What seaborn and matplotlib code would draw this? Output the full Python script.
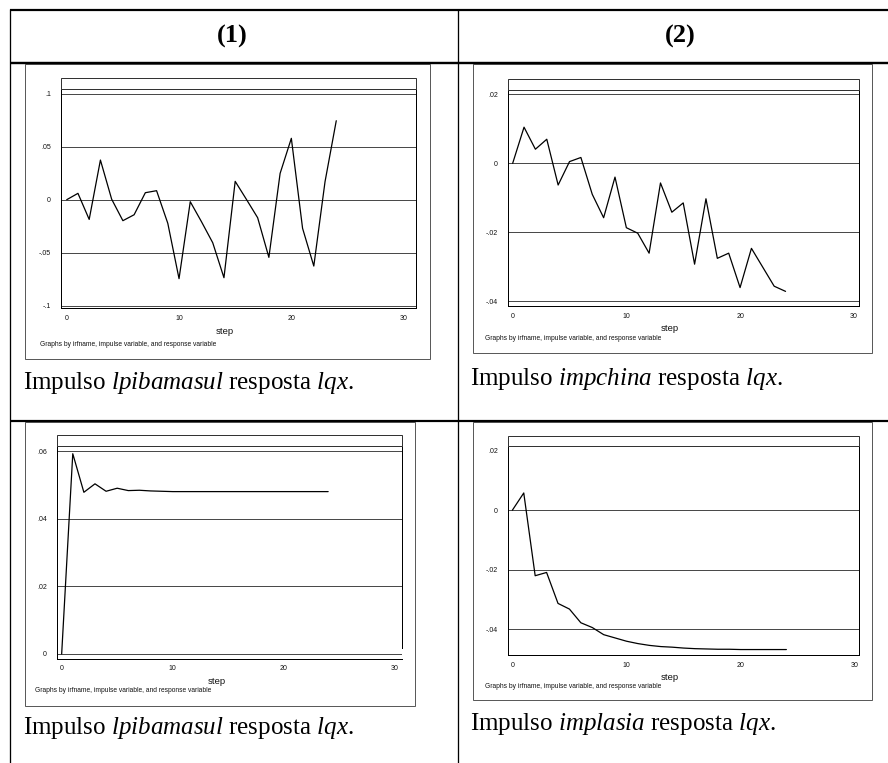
import numpy as np
import pandas as pd
import matplotlib
matplotlib.use("Agg")
import matplotlib.pyplot as plt
import seaborn as sns
from matplotlib.patches import Rectangle
from matplotlib.lines import Line2D

# ---------------- data ----------------
steps = list(range(25))
irf_lpibamsul_top = [0.0, 0.006, -0.0186, 0.0374, 0.0005, -0.0198, -0.0142, 0.0066, 0.0085,
                     -0.0223, -0.0745, -0.0019, -0.0208, -0.0406, -0.0736, 0.0173, 0.0003,
                     -0.017, -0.0544, 0.0248, 0.0579, -0.027, -0.0626, 0.017, 0.0745]
irf_impchina = [0.0, 0.0105, 0.0041, 0.0070, -0.0063, 0.0005, 0.0017, -0.0090, -0.0158,
                -0.0040, -0.0187, -0.0203, -0.0261, -0.0057, -0.0142, -0.0115, -0.0293,
                -0.0103, -0.0276, -0.0261, -0.0361, -0.0247, -0.0302, -0.0357, -0.0372]
irf_lpibamsul_bottom = [0.0, 0.0592, 0.0478, 0.0503, 0.0481, 0.0490, 0.0483, 0.0484, 0.0482,
                        0.0481, 0.0480, 0.0480, 0.0480, 0.0480, 0.0480, 0.0480, 0.0480,
                        0.0480, 0.0480, 0.0480, 0.0480, 0.0480, 0.0480, 0.0480, 0.0480]
irf_implasia = [0.0, 0.0058, -0.0220, -0.0209, -0.0313, -0.0332, -0.0378, -0.0394, -0.0418,
                -0.0429, -0.0440, -0.0448, -0.0454, -0.0458, -0.0460, -0.0463, -0.0465,
                -0.0466, -0.0467, -0.0467, -0.0468, -0.0468, -0.0468, -0.0468, -0.0468]

strip_titles = ["vec, lpibamsul, lqx", "vec, impchina, lqx", "vec, lpibamsul, lqx", "vec, implasia, lqx"]
impulse_names = ["lpibamasul", "impchina", "lpibamasul", "implasia"]
column_headers = ["(1)", "(2)"]
xticks = [0, 10, 20, 30]
yticks_list = [[0.1, 0.05, 0.0, -0.05, -0.1],
               [0.02, 0.0, -0.02, -0.04],
               [0.06, 0.04, 0.02, 0.0],
               [0.02, 0.0, -0.02, -0.04]]
yticklabels_list = [[".1", ".05", "0", "-.05", "-.1"],
                    [".02", "0", "-.02", "-.04"],
                    [".06", ".04", ".02", "0"],
                    [".02", "0", "-.02", "-.04"]]
grid_list = [[0.1, 0.05, 0.0, -0.05, -0.1],
             [0.02, 0.0, -0.02, -0.04],
             [0.06, 0.04, 0.02, 0.0],
             [0.0, -0.02, -0.04]]
series_list = [irf_lpibamsul_top, irf_impchina, irf_lpibamsul_bottom, irf_implasia]
note_text = "Graphs by irfname, impulse variable, and response variable"

# ---------------- layout (pixels) ----------------
W, H, DPI = 888, 763, 100
PX = 72.0 / DPI  # points per pixel

sns.set_theme(style="white")
plt.rcParams["font.family"] = ["Liberation Sans", "DejaVu Sans"]
plt.rcParams["mathtext.fontset"] = "custom"
plt.rcParams["mathtext.rm"] = "Liberation Serif"
plt.rcParams["mathtext.it"] = "Liberation Serif:italic"

fig = plt.figure(figsize=(W / DPI, H / DPI), dpi=DPI)
fig.patch.set_facecolor("white")


def fx(x):
    return x / W


def fy(y):
    return 1 - y / H


def fline(x0, y0, x1, y1, lw_px, color="black"):
    fig.add_artist(Line2D([fx(x0), fx(x1)], [fy(y0), fy(y1)], lw=lw_px * PX,
                          color=color, transform=fig.transFigure, solid_capstyle="butt"))


panels = [
    dict(box=(25, 64, 430, 359), plot=(61, 89, 416, 308), strip_top=78,
         ylim=(-0.10217, 0.10443), xlim=(-0.51, 31.1), note=(40, 345), step_y=332,
         caption=(23, 383), right_low=None),
    dict(box=(473, 64, 872, 353), plot=(508, 89.5, 859, 306), strip_top=79,
         ylim=(-0.04145, 0.02145), xlim=(-0.41, 30.46), note=(485, 339), step_y=328,
         caption=(470, 379), right_low=None),
    dict(box=(25, 422, 415, 706), plot=(57, 446, 402, 658.7), strip_top=435,
         ylim=(-0.00139, 0.06148), xlim=(-0.42, 30.65), note=(35, 691), step_y=681,
         caption=(23, 728), right_low=0.0017),
    dict(box=(473, 422, 872, 700), plot=(508, 446, 859, 655), strip_top=435.5,
         ylim=(-0.04863, 0.02158), xlim=(-0.38, 30.36), note=(485, 686), step_y=677,
         caption=(470, 724), right_low=None),
]

for i, p in enumerate(panels):
    bx0, by0, bx1, by1 = p["box"]
    fig.add_artist(Rectangle((fx(bx0), fy(by1)), (bx1 - bx0) / W, (by1 - by0) / H,
                             transform=fig.transFigure, facecolor="white",
                             edgecolor="#5a5a5a", lw=1.0 * PX, zorder=0))
    l, t, r, b = p["plot"]
    ax = fig.add_axes([fx(l), fy(b), (r - l) / W, (b - t) / H])
    ax.set_facecolor("white")
    df = pd.DataFrame({"step": steps, "irf": series_list[i]})
    for g in grid_list[i]:
        ax.axhline(g, color="#4a4a4a", lw=1.0 * PX, zorder=1)
    sns.lineplot(data=df, x="step", y="irf", ax=ax, color="black", lw=1.25 * PX, zorder=3)
    ax.set_xlim(*p["xlim"])
    ax.set_ylim(*p["ylim"])
    ax.set_xticks(xticks)
    ax.set_xticklabels([str(v) for v in xticks])
    ax.set_yticks(yticks_list[i])
    ax.set_yticklabels(yticklabels_list[i])
    ax.tick_params(axis="both", direction="out", length=4 * PX, width=0.8 * PX,
                   colors="black", labelsize=5.0, labelcolor="#111111")
    ax.tick_params(axis="y", pad=4.5)
    ax.tick_params(axis="x", pad=2.0)
    ax.set_xlabel("")
    ax.set_ylabel("")
    ax.spines["top"].set_visible(False)
    for s in ["left", "bottom", "right"]:
        ax.spines[s].set_color("black")
        ax.spines[s].set_linewidth(1.0 * PX)
    if p["right_low"] is not None:
        ax.spines["right"].set_bounds(p["right_low"], p["ylim"][1])
    # strip title
    st = p["strip_top"]
    fig.add_artist(Rectangle((fx(l), fy(t)), (r - l) / W, (t - st) / H,
                             transform=fig.transFigure, facecolor="white",
                             edgecolor="#333333", lw=1.0 * PX, zorder=5))
    fig.text(fx((l + r) / 2), fy((st + t) / 2), strip_titles[i], ha="center", va="center",
             fontsize=4.9, color="#111111")
    # x title and note
    fig.text(fx((bx0 + bx1) / 2 - 3), fy(p["step_y"]), "step", ha="center", va="center",
             fontsize=6.8, color="#111111")
    fig.text(fx(p["note"][0]), fy(p["note"][1]), note_text, ha="left", va="center",
             fontsize=4.8, color="#111111")
    # caption
    cx, cy = p["caption"]
    fig.text(fx(cx), fy(cy),
             r"Impulso $\mathit{%s}$ resposta $\mathit{lqx}$." % impulse_names[i],
             ha="left", va="center", fontsize=18, family="Liberation Serif", color="black")

# ---------------- table frame ----------------
fline(10, 10, 888, 10, 2.2)
fline(10, 62.5, 888, 62.5, 2.4)
fline(10, 421.5, 888, 421.5, 2.2)
fline(10, 9, 10, 763, 1.3)
fline(458, 9, 458, 763, 1.3)

for x, txt in zip([232, 680], column_headers):
    fig.text(fx(x), fy(36), txt, ha="center", va="center", fontsize=19,
             family="Liberation Serif", fontweight="bold", color="black")

fig.savefig("out.png", dpi=DPI, facecolor="white")
